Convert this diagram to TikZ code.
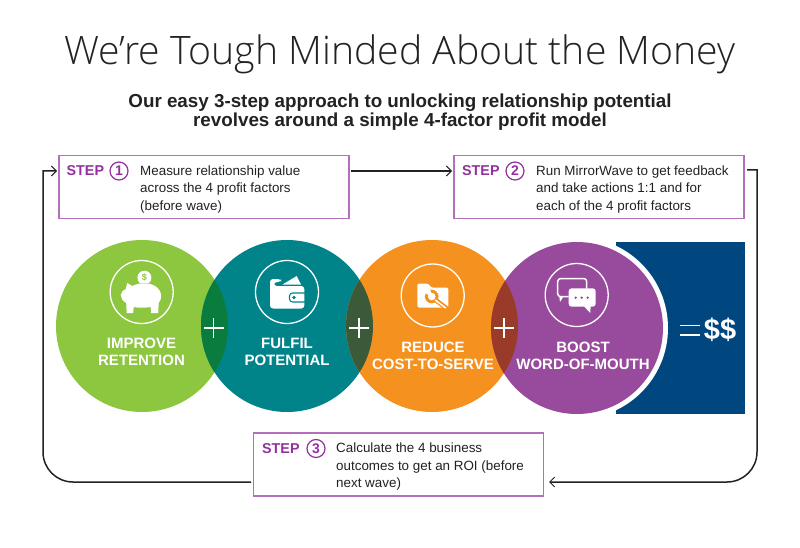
\documentclass[tikz,border=0pt]{standalone}
\usepackage{fontspec}
\setmainfont{Liberation Sans}
\newfontfamily\lightfont{Open Sans Light}
\usetikzlibrary{arrows.meta}
\definecolor{cgreen}{HTML}{8DC63F}
\definecolor{cteal}{HTML}{00848A}
\definecolor{corange}{HTML}{F5911E}
\definecolor{cpurple}{HTML}{984B9C}
\definecolor{cnavy}{HTML}{00477F}
\definecolor{ogreen}{HTML}{0A7D3E}
\definecolor{oteal}{HTML}{3A5A3A}
\definecolor{oorange}{HTML}{9A3B2A}
\definecolor{boxline}{HTML}{B46FBC}
\definecolor{stepcol}{HTML}{93329E}
\definecolor{ink}{HTML}{222222}
\tikzset{
  big/.style={circle,minimum size=172pt,inner sep=0pt,fill=#1},
  stepbox/.style={draw=boxline,line width=1.8pt,fill=white,minimum width=290pt,minimum height=63pt,inner sep=0pt,outer sep=0pt},
  steplabel/.style={anchor=west,inner sep=0pt,text=stepcol,font=\fontsize{14.3}{17}\selectfont\bfseries},
  stepnum/.style={circle,draw=stepcol,line width=1.2pt,minimum size=18pt,inner sep=0pt,text=stepcol,font=\fontsize{14}{16}\selectfont\bfseries},
  steptext/.style={anchor=west,inner sep=0pt,align=left,text=ink,font=\fontsize{13.4}{17.5}\selectfont},
  circtext/.style={inner sep=0pt,align=center,text=white,font=\fontsize{15}{17.2}\selectfont\bfseries},
  ring/.style={draw=white,line width=1.3pt,circle,minimum size=63pt,inner sep=0pt},
  wire/.style={draw=ink,line width=1.5pt},
  tip/.style={-{Straight Barb[length=5pt,width=10pt,line width=1pt]}},
  plusbar/.style={draw=white,line width=1.5pt}
}
\begin{document}
\begin{tikzpicture}[x=1pt,y=-1pt]
\useasboundingbox (0,0) rectangle (800,548);
\fill[white] (0,0) rectangle (800,548);
% titles
\node[inner sep=0pt,text=ink,font=\lightfont\fontsize{39.2}{44}\selectfont] (title) at (400,54) {We’re Tough Minded About the Money};
\node[inner sep=0pt,align=center,text=ink,font=\fontsize{18.8}{19.5}\selectfont\bfseries] (sub) at (400,112) {Our easy 3-step approach to unlocking relationship potential\\revolves around a simple 4-factor profit model};
% step boxes
\node[stepbox] (s1) at (204,187) {};
\node[stepbox] (s2) at (599,187) {};
\node[stepbox] (s3) at (398.5,464.5) {};
\node[steplabel] (s1l) at (66.5,171) {STEP};
\node[stepnum] (s1n) at (119,171) {1};
\node[steptext] (s1t) at (140,189.5) {Measure relationship value\\across the 4 profit factors\\(before wave)};
\node[steplabel] (s2l) at (462,171) {STEP};
\node[stepnum] (s2n) at (515,171) {2};
\node[steptext] (s2t) at (536,189.5) {Run MirrorWave to get feedback\\and take actions 1:1 and for\\each of the 4 profit factors};
\node[steplabel] (s3l) at (262,448.5) {STEP};
\node[stepnum] (s3n) at (316,448.5) {3};
\node[steptext] (s3t) at (336,467) {Calculate the 4 business\\outcomes to get an ROI (before\\next wave)};
% connectors
\coordinate (a1) at ([xshift=2pt,yshift=-15.5pt]s1.north east);
\coordinate (a2) at ([xshift=-2pt,yshift=-15.5pt]s2.north west);
\coordinate (b1) at ([xshift=3pt,yshift=-14.5pt]s2.north east);
\coordinate (b2) at ([xshift=5.5pt,yshift=-49pt]s3.north east);
\coordinate (c1) at ([xshift=-2.5pt,yshift=-49pt]s3.north west);
\coordinate (c2) at ([xshift=-2pt,yshift=-15.5pt]s1.north west);
\draw[wire,tip] (a1) -- (a2);
\draw[wire,tip] (b1) -- (757,170) -- (757,452) .. controls (757,468.6) and (743.6,482) .. (727,482) -- (b2);
\draw[wire,tip] (c1) -- (73,482) .. controls (56.4,482) and (43,468.6) .. (43,452) -- (43,171) -- (c2);
% navy block
\fill[cnavy] (616,242) rectangle (745,414);
\node[inner sep=0pt,text=white,font=\fontsize{29}{32}\selectfont\bfseries] (dollars) at (720,330) {\$\$};
\draw[plusbar] (680,325.5) -- (700,325.5) (680,335) -- (700,335);
% circles
\fill[white] (577,328) circle[radius=91];
\node[big=cgreen] (k1) at (142,326) {};
\node[big=cteal] (k2) at (287,326) {};
\node[big=corange] (k3) at (432,326) {};
\node[big=cpurple] (k4) at (577,328) {};
% overlaps
\begin{scope}\clip (k1.center) circle[radius=86]; \fill[ogreen] (k2.center) circle[radius=86];\end{scope}
\begin{scope}\clip (k2.center) circle[radius=86]; \fill[oteal] (k3.center) circle[radius=86];\end{scope}
\begin{scope}\clip (k3.center) circle[radius=86]; \fill[oorange] (k4.center) circle[radius=86];\end{scope}
% plus signs
\draw[plusbar] (203.5,328) -- (223.5,328) (213.5,318) -- (213.5,338);
\draw[plusbar] (349,328) -- (369,328) (359,318) -- (359,338);
\draw[plusbar] (494,328) -- (514,328) (504,318) -- (504,338);
% circle labels
\node[circtext] (k1t) at (141.5,352) {IMPROVE\\RETENTION};
\node[circtext] (k2t) at (287,352) {FULFIL\\POTENTIAL};
\node[circtext] (k3t) at (433,355.5) {REDUCE\\COST-TO-SERVE};
\node[circtext] (k4t) at (583,355.5) {BOOST\\WORD-OF-MOUTH};
% rings
\node[ring] (r1) at (141.7,292) {};
\node[ring] (r2) at (287,292) {};
\node[ring] (r3) at (432.7,295.5) {};
\node[ring] (r4) at (576.7,295) {};
% piggy
\begin{scope}[shift={(141.7,292)}]
\fill[white] (2.7,-14.3) circle[radius=7];
\node[inner sep=0pt,text=cgreen,font=\fontsize{9}{9}\selectfont\bfseries] (pigcoin) at (2.7,-14.8) {\$};
\fill[cgreen] (-8,-9.5) rectangle (14,-7.6);
\fill[white] (-21,3) .. controls (-21,0) and (-18,-2) .. (-16,-3) -- (-14.5,-9) -- (-9.5,-6)
  .. controls (-2,-10) and (10,-10) .. (16,-4)
  .. controls (20,0) and (21,6) .. (17,11) -- (16.5,21) -- (9.5,21) -- (9,15)
  .. controls (3,16) and (-3,16) .. (-8,15) -- (-8.5,21) -- (-15,21) -- (-15.5,11)
  .. controls (-19,9) and (-21,6) .. cycle;
\end{scope}
% wallet
\begin{scope}[shift={(287,292)}]
\fill[white] (-4.5,-7.5) -- (9.7,-16) -- (14,-7.5) -- cycle;
\fill[white,rounded corners=3pt] (-17,16.5) -- (-17,-13) -- (-6,-13) -- (-6,-10) -- (-13,-10) -- (-13,-6) -- (17.3,-6) -- (17.3,16.5) -- cycle;
\draw[cteal,line width=1.1pt,rounded corners=3pt] (17.8,1) -- (2.5,1) -- (2.5,10) -- (17.8,10);
\fill[cteal] (7,5.5) circle[radius=1.8];
\end{scope}
% folder and wrench
\begin{scope}[shift={(432.7,295.5)}]
\fill[white,rounded corners=1.5pt] (-15.3,12) -- (-15.3,-12) -- (-4.5,-12) -- (-1.5,-8) -- (15.7,-8) -- (15.7,12) -- cycle;
\draw[corange,line width=4.6pt] (1,3) -- (16,14.5);
\fill[corange] (-1,1) circle[radius=6.8];
\fill[white] (-1,1) circle[radius=3.8];
\fill[white] (-0.5,1.5) -- (-9,-3) -- (-3,-8) -- cycle;
\draw[white,line width=1.5pt] (2.5,4.5) -- (13,12.5);
\end{scope}
% chat
\begin{scope}[shift={(576.7,295)}]
\draw[white,line width=1.5pt,rounded corners=3pt] (-8,1.7) -- (-19,1.7) -- (-19,-16.5) -- (10,-16.5) -- (10,-6.5);
\fill[white] (-17.5,1) -- (-13,1) -- (-16.7,7) -- cycle;
\fill[white,rounded corners=3pt] (-8,-6.7) rectangle (19,11.7);
\fill[white] (7,11) -- (14,11) -- (13.5,18) -- cycle;
\fill[cpurple] (-1,2.7) circle[radius=1.3] (5,2.7) circle[radius=1.3] (11,2.7) circle[radius=1.3];
\end{scope}
\end{tikzpicture}
\end{document}
